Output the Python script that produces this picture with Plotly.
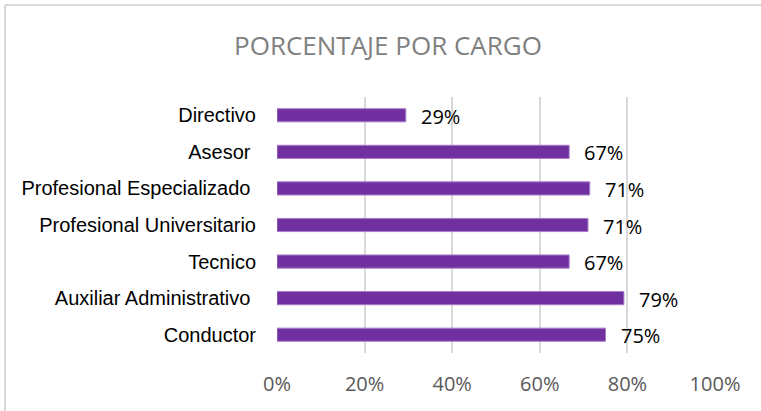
import plotly.graph_objects as go

categories = ["Directivo", "Asesor ", "Profesional Especializado ", "Profesional Universitario",
              "Tecnico", "Auxiliar Administrativo ", "Conductor"]
values = [0.294, 0.667, 0.714, 0.710, 0.667, 0.792, 0.750]
value_labels = ["29%", "67%", "71%", "71%", "67%", "79%", "75%"]
x_ticks = [0, 0.2, 0.4, 0.6, 0.8, 1.0]
x_tick_labels = ["0%", "20%", "40%", "60%", "80%", "100%"]
title_text = "PORCENTAJE POR CARGO"

W, H = 761, 411
L, R, T, B = 277, 46, 97, 58
pw, ph = W - L - R, H - T - B

fig = go.Figure()
fig.add_trace(go.Bar(
    x=values, y=categories, orientation="h",
    marker=dict(color="#7030A0", line=dict(color="#A77CC8", width=1)),
    width=0.36, hoverinfo="skip",
))

for v, c, t in zip(values, categories, value_labels):
    fig.add_annotation(x=v, y=c, xref="x", yref="y", text=t, showarrow=False,
                       xanchor="left", yanchor="middle", xshift=13, yshift=-1,
                       font=dict(family="Open Sans", size=20, color="#000000"))

def px_x(p):
    return (p - L) / pw

def px_y(p):
    return (H - B - p) / ph

# chart border (top and left visible)
fig.add_shape(type="line", xref="paper", yref="paper",
              x0=px_x(5), x1=px_x(800), y0=px_y(5), y1=px_y(5),
              line=dict(color="#D9D9D9", width=2))
fig.add_shape(type="line", xref="paper", yref="paper",
              x0=px_x(5), x1=px_x(5), y0=px_y(5), y1=px_y(450),
              line=dict(color="#D9D9D9", width=2))

fig.update_layout(
    width=W, height=H,
    margin=dict(l=L, r=R, t=T, b=B, autoexpand=False),
    paper_bgcolor="white", plot_bgcolor="white",
    showlegend=False,
    title=dict(text=title_text, x=388 / W, xanchor="center",
               y=1 - 46 / H, yanchor="middle", automargin=False,
               font=dict(family="Open Sans", size=26, color="#808080")),
    xaxis=dict(range=[0, 1.0], tickvals=x_ticks, ticktext=x_tick_labels,
               showgrid=True, gridcolor="#D9D9D9", gridwidth=1.5, automargin=False,
               zeroline=False, showline=False, ticks="", ticklabelstandoff=17,
               tickfont=dict(family="Open Sans", size=20, color="#595959")),
    yaxis=dict(categoryorder="array", categoryarray=categories[::-1], automargin=False,
               showgrid=False, zeroline=False, showline=False, ticks="",
               ticklabelstandoff=20,
               tickfont=dict(family="Liberation Sans", size=20, color="#000000")),
)

fig.write_html("out.html", config={"displayModeBar": False},
               post_script="document.body.style.margin='0';document.body.style.overflow='hidden';")
